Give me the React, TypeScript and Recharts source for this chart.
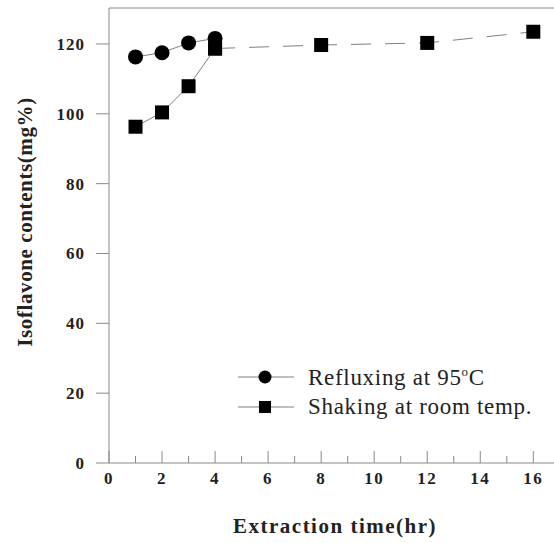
import React from "react";
import {
  ComposedChart,
  Line,
  XAxis,
  YAxis,
  ReferenceLine,
} from "recharts";

const HOURS = [1, 2, 3, 4, 8, 12, 16];
const REFLUXING = [116.3, 117.5, 120.3, 121.6, null, null, null];
const SHAKING = [96.3, 100.4, 107.9, 118.7, 119.7, 120.3, 123.5];

const X_TICKS = [0, 1, 2, 3, 4, 5, 6, 7, 8, 9, 10, 11, 12, 13, 14, 15, 16];
const Y_TICKS = [0, 20, 40, 60, 80, 100, 120];

const X_MAX = 16.78;
const Y_MAX = 130.3;

const AXIS = "#8a8a8a";
const LINE = "#808080";
const FONT = "Liberation Serif";

// solid part of the shaking curve stops at 4 h, the rest is dashed
const chartData = HOURS.map((t, i) => ({
  t,
  reflux: REFLUXING[i],
  shakeSolid: t <= 4 ? SHAKING[i] : null,
  shakeDash: t >= 4 ? SHAKING[i] : null,
}));

function Square(props: any) {
  const { cx, cy, index, value } = props;
  if (value == null || cx == null) return <g key={`sq-${index}`} />;
  return <rect key={`sq-${index}`} x={cx - 7} y={cy - 7} width={14} height={14} fill="#000" />;
}

function Circle(props: any) {
  const { cx, cy, index, value } = props;
  if (value == null || cx == null) return <g key={`c-${index}`} />;
  return <circle key={`c-${index}`} cx={cx} cy={cy} r={7.5} fill="#000" />;
}

function XTick(props: any) {
  const { x, y, payload } = props;
  const major = payload.value % 2 === 0;
  return (
    <g>
      <line x1={x} x2={x} y1={y} y2={y - (major ? 12 : 7)} stroke={AXIS} />
      {major && (
        <text
          x={x}
          y={y + 21}
          textAnchor="middle"
          style={{ fontFamily: FONT, fontWeight: "bold", fontSize: 17, letterSpacing: 1.5 }}
          fill="#222"
        >
          {payload.value}
        </text>
      )}
    </g>
  );
}

function YTick(props: any) {
  const { x, y, payload } = props;
  return (
    <text
      x={x}
      y={y + 6}
      textAnchor="end"
      style={{ fontFamily: FONT, fontWeight: "bold", fontSize: 17, letterSpacing: 1 }}
      fill="#222"
    >
      {payload.value}
    </text>
  );
}

function LegendRow({ label, marker }: { label: React.ReactNode; marker: "circle" | "square" }) {
  return (
    <div style={{ display: "flex", alignItems: "center", height: 30 }}>
      <svg width={56} height={20} style={{ marginRight: 14 }}>
        <line x1={0} x2={56} y1={10} y2={10} stroke={LINE} />
        {marker === "circle" ? (
          <circle cx={27} cy={10} r={6.5} fill="#000" />
        ) : (
          <rect x={21} y={4} width={12} height={12} fill="#000" />
        )}
      </svg>
      <span style={{ fontSize: 23, letterSpacing: 0.7, color: "#222", whiteSpace: "nowrap" }}>{label}</span>
    </div>
  );
}

export default function App() {
  return (
    <div style={{ position: "absolute", left: 0, top: 0, width: 554, height: 543, background: "#fff", fontFamily: FONT }}>
      <ComposedChart
        width={554}
        height={543}
        data={chartData}
        margin={{ top: 8, right: 0, bottom: 0, left: 0 }}
      >
        <XAxis
          dataKey="t"
          type="number"
          domain={[0, X_MAX]}
          ticks={X_TICKS}
          interval={0}
          height={80}
          axisLine={{ stroke: AXIS }}
          tickLine={false}
          tickSize={0}
          tickMargin={0}
          tick={<XTick />}
        />
        <YAxis
          type="number"
          domain={[0, Y_MAX]}
          ticks={Y_TICKS}
          interval={0}
          width={109}
          axisLine={{ stroke: AXIS }}
          tickLine={{ stroke: AXIS }}
          tickSize={13}
          tickMargin={11}
          tick={<YTick />}
        />
        <ReferenceLine y={Y_MAX} stroke={AXIS} />
        <Line
          dataKey="reflux"
          stroke={LINE}
          strokeWidth={1}
          dot={<Circle />}
          activeDot={false}
          isAnimationActive={false}
          legendType="none"
        />
        <Line
          dataKey="shakeSolid"
          stroke={LINE}
          strokeWidth={1}
          dot={<Square />}
          activeDot={false}
          isAnimationActive={false}
          legendType="none"
        />
        <Line
          dataKey="shakeDash"
          stroke={LINE}
          strokeWidth={1}
          strokeDasharray="20 14"
          dot={<Square />}
          activeDot={false}
          isAnimationActive={false}
          legendType="none"
        />
      </ComposedChart>

      <div
        style={{
          position: "absolute",
          left: 25,
          top: 222,
          transform: "translate(-50%, -50%) rotate(-90deg)",
          fontWeight: "bold",
          fontSize: 21,
          letterSpacing: 0.6,
          whiteSpace: "nowrap",
          color: "#222",
        }}
      >
        Isoflavone contents(mg%)
      </div>

      <div
        style={{
          position: "absolute",
          left: 335,
          top: 526,
          transform: "translate(-50%, -50%)",
          fontWeight: "bold",
          fontSize: 21,
          letterSpacing: 1.5,
          whiteSpace: "nowrap",
          color: "#222",
        }}
      >
        Extraction time(hr)
      </div>

      <div style={{ position: "absolute", left: 238, top: 362 }}>
        <LegendRow
          marker="circle"
          label={
            <>
              Refluxing at 95<sup style={{ fontSize: 13 }}>o</sup>C
            </>
          }
        />
        <LegendRow marker="square" label="Shaking at room temp." />
      </div>
    </div>
  );
}
